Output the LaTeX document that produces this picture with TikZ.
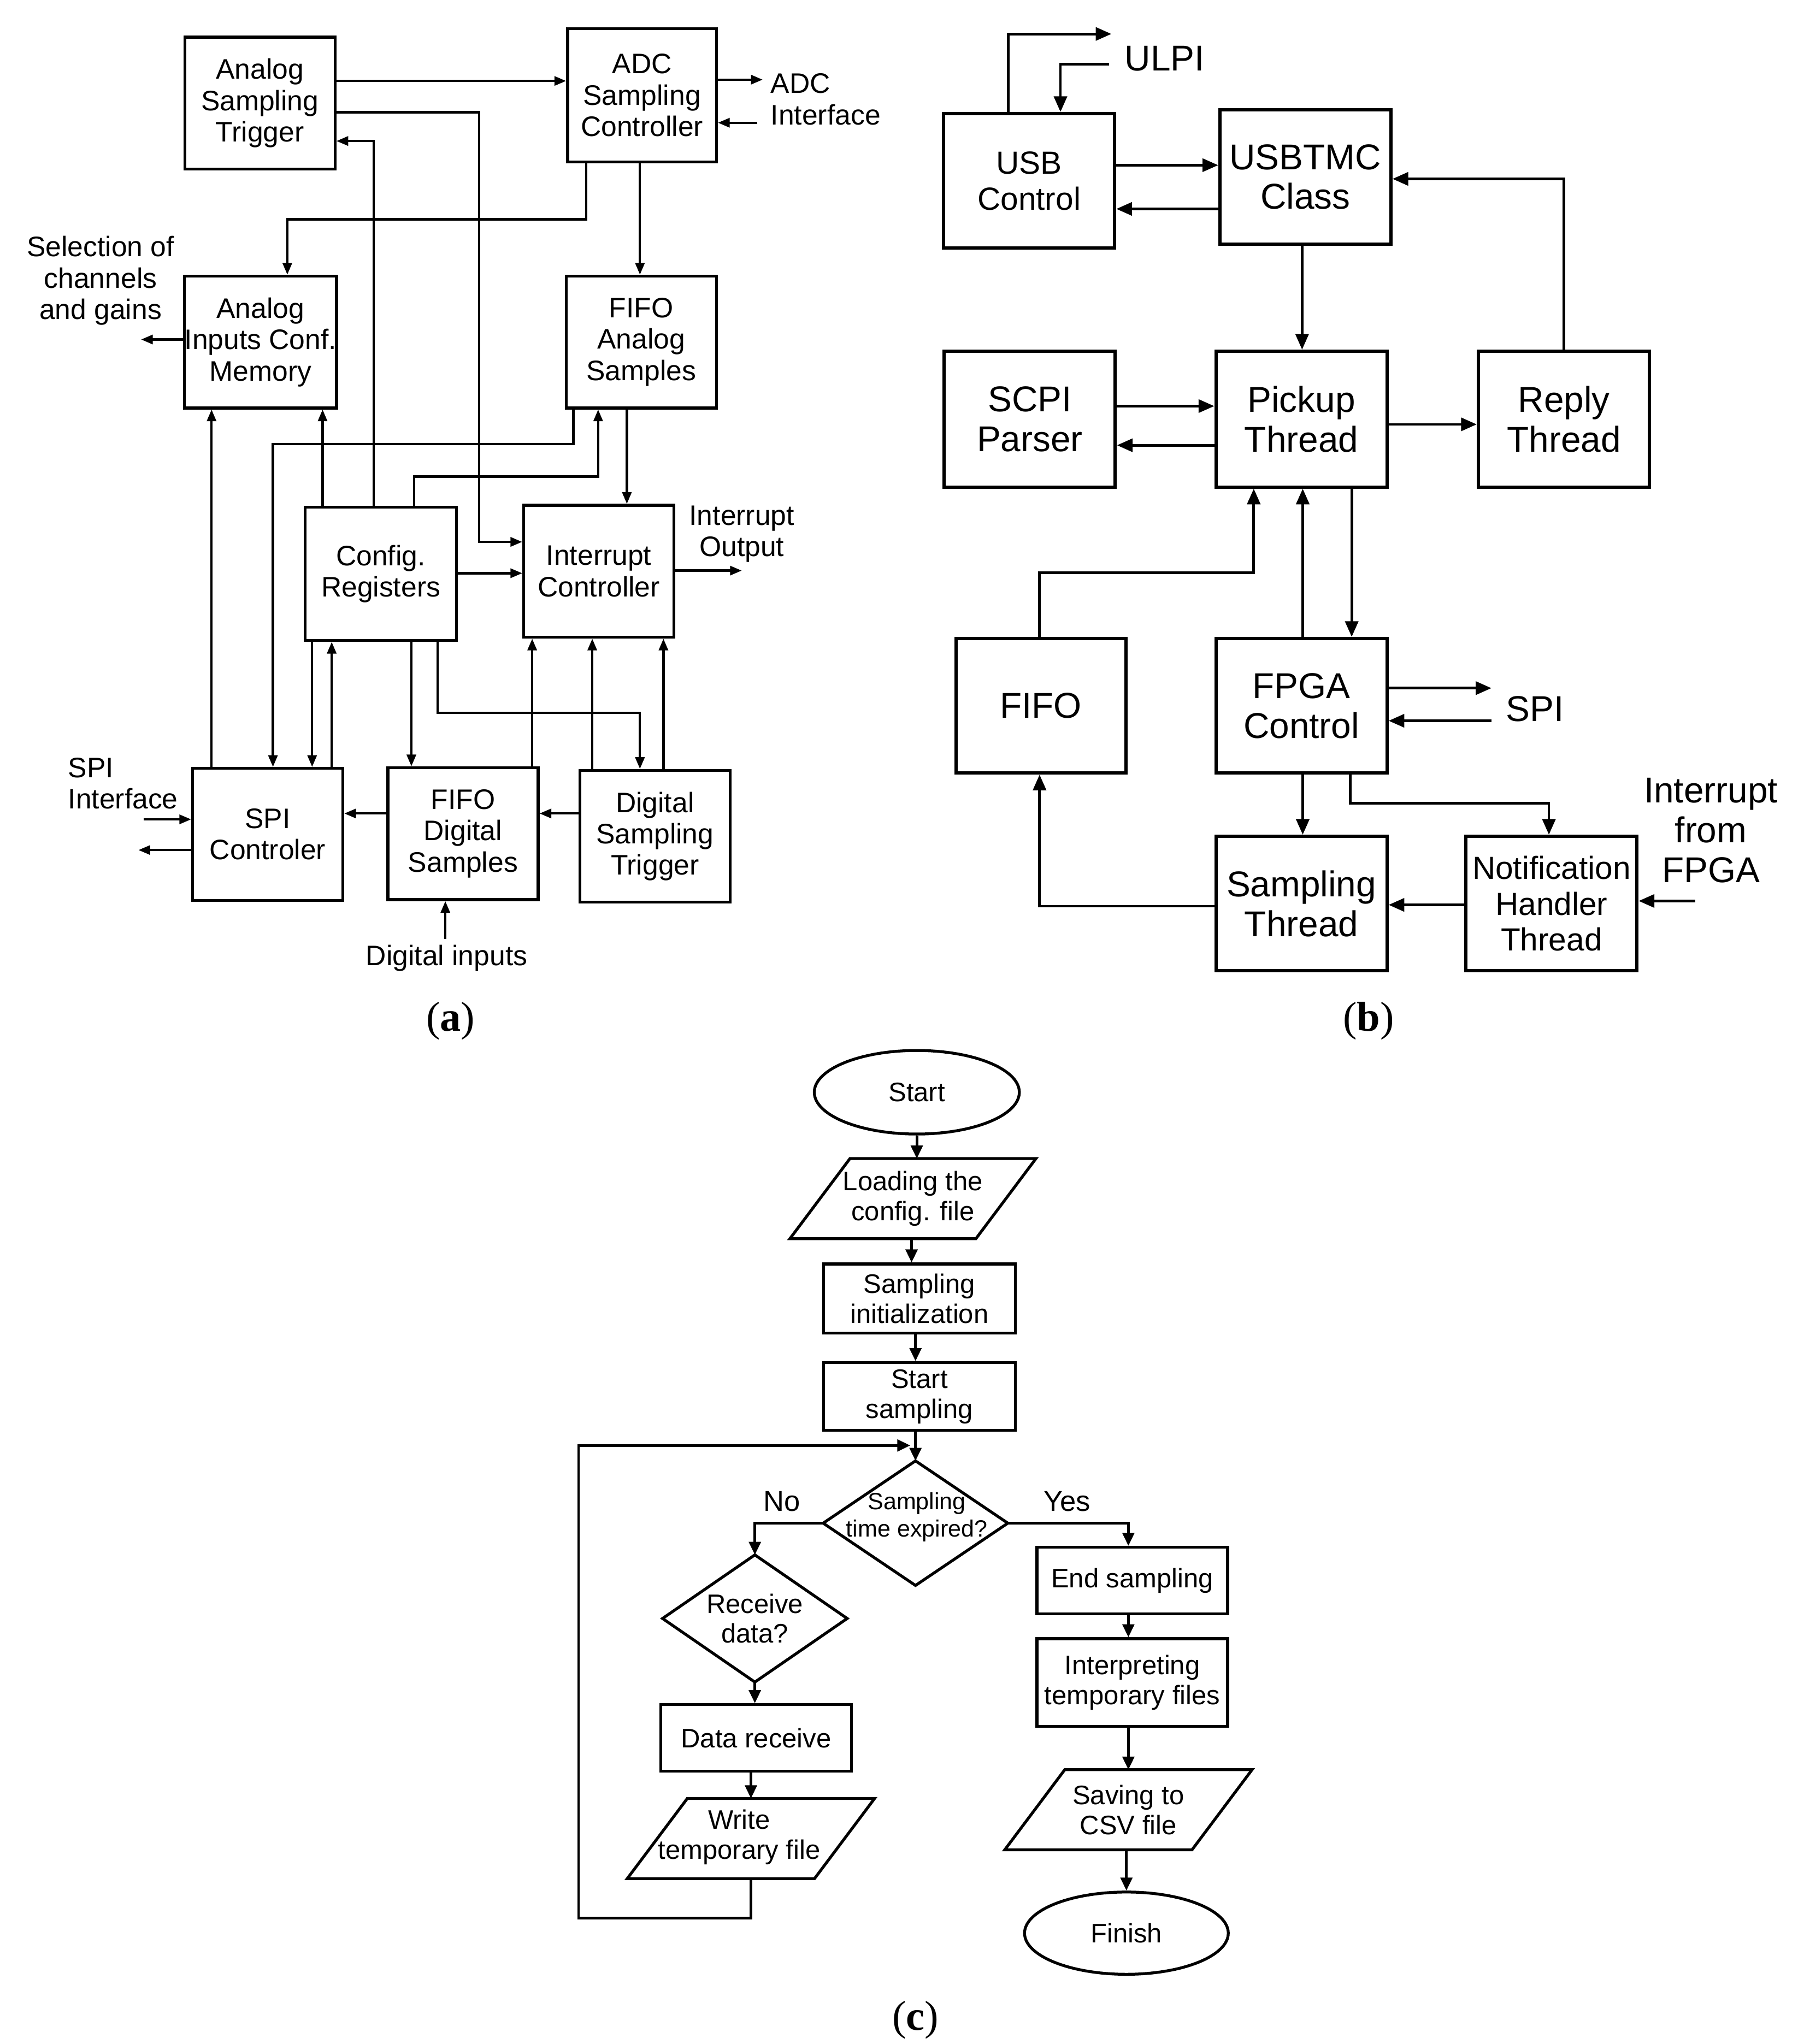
\documentclass[tikz,border=0pt]{standalone}
\usepackage{fontspec}
\setmainfont{Liberation Sans}
\newfontfamily\capfont{Liberation Serif}
\usetikzlibrary{arrows.meta,calc,shapes.geometric}
\begin{document}
\begin{tikzpicture}[x=1pt,y=-1pt,
  fa/.style={font=\fontsize{21.6}{24}\selectfont},
  fb/.style={font=\fontsize{27.5}{30.5}\selectfont},
  fbs/.style={font=\fontsize{24.5}{27.5}\selectfont},
  fc/.style={font=\fontsize{20.5}{23}\selectfont},
  fcs/.style={font=\fontsize{18}{21}\selectfont},
  boxa/.style={draw,line width=2.2pt,inner sep=0pt,align=center,minimum width=115,minimum height=101,fa},
  boxb/.style={draw,line width=2.5pt,inner sep=0pt,align=center,minimum width=131,minimum height=103,fb},
  boxc/.style={draw,line width=2.2pt,inner sep=0pt,align=center,fc},
  ellc/.style={draw,ellipse,line width=2.2pt,inner sep=0pt,align=center,fc},
  plc/.style={inner sep=0pt,align=center,fc},
  shapeline/.style={line width=2.2pt,line join=miter},
  txa/.style={inner sep=0pt,align=center,fa},
  txb/.style={inner sep=0pt,align=center,fb},
  txc/.style={inner sep=0pt,align=center,font=\fontsize{22}{24}\selectfont},
  capf/.style={inner sep=0pt,font=\capfont\fontsize{32}{34}\selectfont},
  arra/.style={line width=1.8pt,-{Triangle[length=9pt,width=7pt]}},
  arrb/.style={line width=2pt,-{Triangle[length=12pt,width=10pt]}},
  arrc/.style={line width=2pt,-{Triangle[length=10pt,width=9pt]}},
  lina/.style={line width=1.8pt},
]
\useasboundingbox (0,0) rectangle (1381,1565.4);
\fill[white] (0,0) rectangle (1381,1565.4);

% ---------------- Panel (a) ----------------
\node[boxa] (ast) at (199,79) {Analog\\Sampling\\Trigger};
\node[boxa,minimum width=114,minimum height=102] (adc) at (491.6,73) {ADC\\Sampling\\Controller};
\node[boxa,minimum width=116] (aicm) at (199.5,262) {Analog\\Inputs Conf.\\Memory};
\node[boxa] (fifoa) at (491,262) {FIFO\\Analog\\Samples};
\node[boxa,minimum width=116,minimum height=102] (cfg) at (291.6,439.5) {Config.\\Registers};
\node[boxa] (ic) at (458.5,437.5) {Interrupt\\Controller};
\node[boxa] (spi) at (205,639) {SPI\\Controler};
\node[boxa] (fifod) at (354.5,638.5) {FIFO\\Digital\\Samples};
\node[boxa] (dst) at (501.5,640.5) {Digital\\Sampling\\Trigger};

\node[txa,anchor=west,align=left] (adcif) at (590,76) {ADC\\Interface};
\node[txa] (sel) at (77,215) {Selection of\\channels\\and gains};
\node[txa] (intout) at (568,409) {Interrupt\\Output};
\node[txa,anchor=west,align=left] (spiif) at (52,600) {SPI\\Interface};
\node[txa] (digin) at (342,734) {Digital inputs};
\node[capf] (capa) at (345,782) {(\textbf{a})};

\coordinate (adco) at (584,61);
\coordinate (adci) at (580,94);
\coordinate (selo) at (108,260);
\coordinate (ico) at (568,437);
\coordinate (spii) at (110,627.5);
\coordinate (spio) at (106,651);
\coordinate (dii) at (341,719);

\draw[arra] (ast.east |- 0,62) -- (adc.west |- 0,62);
\draw[arra] (ast.east |- 0,86) -| (367,415) -- (ic.west |- 0,415);
\draw[arra] (cfg.north -| 286,0) |- (ast.east |- 0,108);
\draw[arra] (adc.east |- adco) -- (adco);
\draw[arra] (adci) -- (adc.east |- adci);
\draw[arra] (adc.south -| 449,0) |- (220,168) -- (aicm.north -| 220,0);
\draw[arra] (adc.south -| 490,0) -- (fifoa.north -| 490,0);
\draw[arra] (aicm.west |- selo) -- (selo);
\draw[arra] (spi.north -| 162,0) -- (aicm.south -| 162,0);
\draw[arra] (cfg.north -| 247,0) -- (aicm.south -| 247,0);
\draw[arra] (fifoa.south -| 439,0) |- (209,340) -- (spi.north -| 209,0);
\draw[arra] (cfg.north -| 317,0) |- (458,365) -- (fifoa.south -| 458,0);
\draw[arra] (fifoa.south -| 480,0) -- (ic.north -| 480,0);
\draw[arra] (cfg.east |- 0,439) -- (ic.west |- 0,439);
\draw[arra] (ic.east |- ico) -- (ico);
\draw[arra] (cfg.south -| 239,0) -- (spi.north -| 239,0);
\draw[arra] (spi.north -| 254,0) -- (cfg.south -| 254,0);
\draw[arra] (cfg.south -| 315,0) -- (fifod.north -| 315,0);
\draw[arra] (cfg.south -| 335,0) |- (490,546) -- (dst.north -| 490,0);
\draw[arra] (fifod.north -| 407.5,0) -- (ic.south -| 407.5,0);
\draw[arra] (dst.north -| 453.5,0) -- (ic.south -| 453.5,0);
\draw[arra] (dst.north -| 508,0) -- (ic.south -| 508,0);
\draw[arra] (fifod.west |- 0,623) -- (spi.east |- 0,623);
\draw[arra] (dst.west |- 0,623) -- (fifod.east |- 0,623);
\draw[arra] (spii) -- (spi.west |- spii);
\draw[arra] (spi.west |- spio) -- (spio);
\draw[arra] (dii) -- (fifod.south -| dii);

% ---------------- Panel (b) ----------------
\node[boxb,fbs] (usb) at (788,138.5) {USB\\Control};
\node[boxb] (tmc) at (999.5,135.5) {USBTMC\\Class};
\node[boxb,minimum height=104] (scpi) at (788.5,321) {SCPI\\Parser};
\node[boxb,minimum height=104] (pick) at (996.5,321) {Pickup\\Thread};
\node[boxb,minimum height=104] (reply) at (1197.5,321) {Reply\\Thread};
\node[boxb,minimum width=130] (fifo) at (797,540.5) {FIFO};
\node[boxb] (fpga) at (996.5,540.5) {FPGA\\Control};
\node[boxb] (samp) at (996.5,692) {Sampling\\Thread};
\node[boxb,fbs] (notif) at (1188,692) {Notification\\Handler\\Thread};

\node[txb,anchor=west] (ulpi) at (861,45) {ULPI};
\node[txb,anchor=west] (spit) at (1153,543) {SPI};
\node[txb] (intf) at (1310,636) {Interrupt\\from\\FPGA};
\node[capf] (capb) at (1048,782) {(\textbf{b})};

\coordinate (ulpio) at (851,26);
\coordinate (ulpii) at (849,49);
\coordinate (spio2) at (1142,527);
\coordinate (spii2) at (1142,552);
\coordinate (inti) at (1298,690);

\draw[arrb] (usb.north -| 772,0) |- (ulpio);
\draw[arrb] (ulpii) -| (usb.north -| 812,0);
\draw[arrb] (usb.east |- 0,126.5) -- (tmc.west |- 0,126.5);
\draw[arrb] (tmc.west |- 0,160) -- (usb.east |- 0,160);
\draw[arrb] (reply.north) |- (tmc.east |- 0,137);
\draw[arrb] (tmc.south -| 997,0) -- (pick.north -| 997,0);
\draw[arrb] (scpi.east |- 0,311) -- (pick.west |- 0,311);
\draw[arrb] (pick.west |- 0,341) -- (scpi.east |- 0,341);
\draw[arrb] (pick.east |- 0,325) -- (reply.west |- 0,325);
\draw[arrb] (fifo.north -| 796,0) |- (960,438.5) -- (pick.south -| 960,0);
\draw[arrb] (fpga.north -| 997.5,0) -- (pick.south -| 997.5,0);
\draw[arrb] (pick.south -| 1035,0) -- (fpga.north -| 1035,0);
\draw[arrb] (fpga.east |- spio2) -- (spio2);
\draw[arrb] (spii2) -- (fpga.east |- spii2);
\draw[arrb] (fpga.south -| 997.5,0) -- (samp.north -| 997.5,0);
\draw[arrb] (fpga.south -| 1034,0) |- (1186,615) -- (notif.north -| 1186,0);
\draw[arrb] (notif.west |- 0,693) -- (samp.east |- 0,693);
\draw[arrb] (inti) -- (notif.east |- inti);
\draw[arrb] (samp.west |- 0,694) -| (fifo.south -| 796,0);

% ---------------- Panel (c) ----------------
\node[ellc,minimum width=157,minimum height=64] (start) at (702,836.5) {Start};
\node[plc,minimum width=188,minimum height=61] (load) at (699,918) {Loading the\\config. file};
\draw[shapeline] (load.south west) -- ($(load.north west)+(46,0)$) -- (load.north east) -- ($(load.south east)+(-46,0)$) -- cycle;
\node[boxc,minimum width=147,minimum height=53] (init) at (704,994.5) {Sampling\\initialization};
\node[boxc,minimum width=147,minimum height=52] (ss) at (704,1069.5) {Start\\sampling};
\node[plc,minimum width=141,minimum height=95] (dec) at (701,1166.5) {};
\draw[shapeline] (dec.north) -- (dec.east) -- (dec.south) -- (dec.west) -- cycle;
\node[plc,fcs] (dect) at (702,1162) {Sampling\\time expired?};
\node[plc,minimum width=141,minimum height=97] (rec) at (578,1239.5) {Receive\\data?};
\draw[shapeline] (rec.north) -- (rec.east) -- (rec.south) -- (rec.west) -- cycle;
\node[boxc,minimum width=146,minimum height=51] (drcv) at (579,1331) {Data receive};
\node[plc,minimum width=189,minimum height=61] (write) at (575,1408) {};
\draw[shapeline] (write.south west) -- ($(write.north west)+(46,0)$) -- (write.north east) -- ($(write.south east)+(-46,0)$) -- cycle;
\node[plc] (writet) at (566,1407) {Write\\temporary file};
\node[boxc,minimum width=146,minimum height=51] (ends) at (867,1210.5) {End sampling};
\node[boxc,minimum width=146,minimum height=67] (interp) at (867,1288.5) {Interpreting\\temporary files};
\node[plc,minimum width=189,minimum height=61] (save) at (864,1386) {Saving to\\CSV file};
\draw[shapeline] (save.south west) -- ($(save.north west)+(46,0)$) -- (save.north east) -- ($(save.south east)+(-46,0)$) -- cycle;
\node[ellc,minimum width=156,minimum height=63] (finish) at (862.5,1480.5) {Finish};

\node[txc] (no) at (598.5,1150) {No};
\node[txc] (yes) at (817,1150) {Yes};
\node[capf] (capc) at (701,1547) {(\textbf{c})};

\coordinate (loopend) at (697,1107);

\draw[arrc] (start.south) -- (start.south |- load.north);
\draw[arrc] (load.south -| 698,0) -- (init.north -| 698,0);
\draw[arrc] (init.south -| 701,0) -- (ss.north -| 701,0);
\draw[arrc] (ss.south -| dec.north) -- (dec.north);
\draw[arrc] (write.south -| 575,0) |- (443,1469) |- (loopend);
\draw[arrc] (dec.west) -| (rec.north);
\draw[arrc] (dec.east) -| (ends.north -| 864,0);
\draw[arrc] (rec.south) -- (rec.south |- drcv.north);
\draw[arrc] (drcv.south -| 575,0) -- (write.north -| 575,0);
\draw[arrc] (ends.south -| 864,0) -- (interp.north -| 864,0);
\draw[arrc] (interp.south -| 864,0) -- (save.north -| 864,0);
\draw[arrc] (save.south -| finish.north) -- (finish.north);
\end{tikzpicture}
\end{document}
